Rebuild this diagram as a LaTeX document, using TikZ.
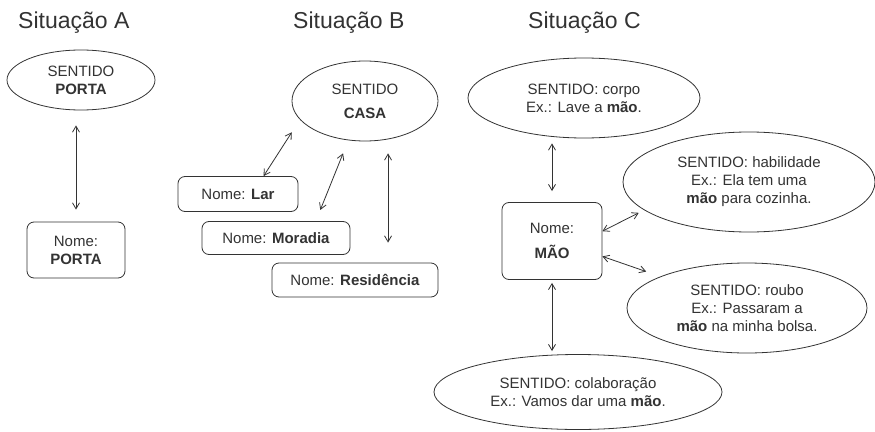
\documentclass[tikz,border=0pt]{standalone}
\usepackage{fontspec}
\setmainfont{Liberation Sans}
\usetikzlibrary{arrows.meta,shapes.geometric}
\definecolor{ink}{HTML}{333333}
\tikzset{
  sentido/.style={ellipse, draw=ink, line width=0.8pt, inner sep=0pt, align=center, text=ink,
    font=\fontsize{15}{18}\selectfont},
  nome/.style={rectangle, rounded corners=7pt, draw=ink, line width=0.8pt, inner sep=0pt, align=center,
    text=ink, font=\fontsize{15}{18}\selectfont},
  titulo/.style={anchor=base west, inner sep=0pt, text=ink, font=\fontsize{23}{27}\selectfont},
  dupla/.style={draw=ink, line width=0.8pt,
    {Straight Barb[length=6pt,width=7pt]}-{Straight Barb[length=6pt,width=7pt]}},
}

\begin{document}
\begin{tikzpicture}[x=1pt,y=-1pt]
    \fill[white] (0,0) rectangle (875,431);
    \useasboundingbox (0,0) rectangle (875,431);

    % titulos
    \node[titulo] (tituloA) at (18,28)  {Situação A};
    \node[titulo] (tituloB) at (293,28) {Situação B};
    \node[titulo] (tituloC) at (528,28) {Situação C};

    % situacao A
    \node[sentido, minimum width=148pt, minimum height=60pt] (sentidoPorta) at (81,80) {SENTIDO\\\textbf{PORTA}};
    \node[nome, minimum width=98pt, minimum height=56pt] (nomePorta) at (76,250) {Nome:\\\textbf{PORTA}};
    \draw[dupla, shorten <=15pt, shorten >=12pt] (nomePorta.north |- sentidoPorta.south) -- (nomePorta.north);

    % situacao B
    \node[sentido, minimum width=146pt, minimum height=80pt] (sentidoCasa) at (365,101) {SENTIDO\\[6pt]\textbf{CASA}};
    \node[nome, minimum width=120pt, minimum height=35pt] (nomeLar) at (238,194) {Nome: \textbf{Lar}};
    \node[nome, minimum width=148pt, minimum height=33pt] (nomeMoradia) at (276,238) {Nome: \textbf{Moradia}};
    \node[nome, minimum width=166pt, minimum height=34pt] (nomeResidencia) at (355,280) {Nome: \textbf{Residência}};
    \draw[dupla, shorten >=15pt] (nomeLar.35) -- (sentidoCasa.196);
    \draw[dupla, shorten <=12pt, shorten >=14pt] (nomeMoradia.23) -- (sentidoCasa.247);
    \draw[dupla, shorten <=14pt, shorten >=20pt] (sentidoCasa.301) -- (sentidoCasa.301 |- nomeResidencia.north);

    % situacao C
    \node[sentido, minimum width=232pt, minimum height=80pt] (sentidoCorpo) at (584,98) {SENTIDO: corpo\\Ex.: Lave a \textbf{mão}.};
    \node[nome, minimum width=100pt, minimum height=77pt] (nomeMao) at (552,241) {Nome:\\[7pt]\textbf{MÃO}};
    \node[sentido, minimum width=252pt, minimum height=100pt] (sentidoHabilidade) at (749,182) {SENTIDO: habilidade\\Ex.: Ela tem uma\\\textbf{mão} para cozinha.};
    \node[sentido, minimum width=240pt, minimum height=90pt] (sentidoRoubo) at (747,308) {SENTIDO: roubo\\Ex.: Passaram a\\\textbf{mão} na minha bolsa.};
    \node[sentido, minimum width=288pt, minimum height=75pt] (sentidoColab) at (578,392) {SENTIDO: colaboração\\Ex.: Vamos dar uma \textbf{mão}.};
    \draw[dupla, shorten <=5pt, shorten >=11pt] (nomeMao.north |- sentidoCorpo.south) -- (nomeMao.north);
    \draw[dupla, shorten >=6pt] (nomeMao.11) -- (sentidoHabilidade.195);
    \draw[dupla, shorten >=15pt] (nomeMao.-17) -- (sentidoRoubo.160);
    \draw[dupla, shorten <=3pt, shorten >=3pt] (nomeMao.south) -- (nomeMao.south |- sentidoColab.north);
\end{tikzpicture}
\end{document}
